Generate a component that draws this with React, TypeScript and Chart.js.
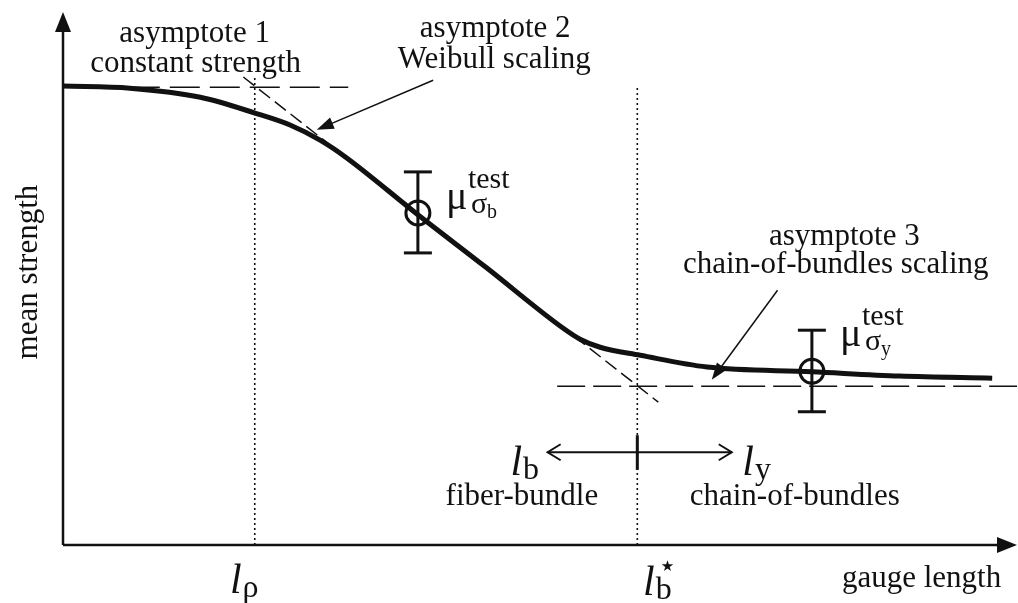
import React, { useEffect, useRef } from "react";
import { Chart, registerables } from "chart.js";

Chart.register(...registerables);

// Mean strength versus gauge length (schematic units, 0–100 on both axes)
const strengthCurveX = [0, 7, 14.4, 20.2, 23.8, 26.9, 29.6, 37.1, 44.4, 52.4, 54.2, 56.3, 60.5, 67.5, 78.5, 87.7, 97.4];
const strengthCurveY = [86.1, 85.7, 84.0, 81.0, 78.8, 76.0, 72.8, 62.1, 52.0, 40.7, 38.6, 37.1, 35.6, 33.4, 32.5, 31.7, 31.3];

// Asymptotes
const asymptote1X = [7.0, 29.9];
const asymptote1Y = [85.9, 85.9];
const asymptote2X = [18.9, 62.4];
const asymptote2Y = [87.8, 26.8];
const asymptote3X = [51.8, 100];
const asymptote3Y = [29.8, 29.8];

// Characteristic lengths l_ρ and l_b*
const lengthMarkX = [20.1, 60.2];
const lengthMarkTop = [87.8, 86.3];

// Test means with scatter bands
const testX = [37.2, 78.5];
const testMean = [62.3, 32.6];
const testLow = [54.8, 25.0];
const testHigh = [70.0, 40.3];
const testSubscripts = ["b", "y"];

const INK = "#111111";
const SERIF = '"Liberation Serif", "DejaVu Serif", serif';

const pts = (xs: number[], ys: number[]) => xs.map((x, i) => ({ x, y: ys[i] }));

function arrowHead(ctx: CanvasRenderingContext2D, x0: number, y0: number, x1: number, y1: number, len: number, half: number) {
  const a = Math.atan2(y1 - y0, x1 - x0);
  ctx.beginPath();
  ctx.moveTo(x1, y1);
  ctx.lineTo(x1 - len * Math.cos(a) + half * Math.sin(a), y1 - len * Math.sin(a) - half * Math.cos(a));
  ctx.lineTo(x1 - len * Math.cos(a) - half * Math.sin(a), y1 - len * Math.sin(a) + half * Math.cos(a));
  ctx.closePath();
  ctx.fill();
}

function openHead(ctx: CanvasRenderingContext2D, x: number, y: number, dir: number, len: number, half: number) {
  ctx.beginPath();
  ctx.moveTo(x - dir * len, y - half);
  ctx.lineTo(x, y);
  ctx.lineTo(x - dir * len, y + half);
  ctx.stroke();
}

const overlay = {
  id: "overlay",
  afterDraw(chart: any) {
    const { ctx, scales } = chart;
    const px = (v: number) => scales.x.getPixelForValue(v);
    const py = (v: number) => scales.y.getPixelForValue(v);
    ctx.save();
    ctx.strokeStyle = INK;
    ctx.fillStyle = INK;

    // axes with arrow heads
    ctx.lineWidth = 2.5;
    ctx.beginPath();
    ctx.moveTo(px(0), py(0));
    ctx.lineTo(px(0), py(100) + 14);
    ctx.moveTo(px(0), py(0));
    ctx.lineTo(px(100) - 14, py(0));
    ctx.stroke();
    arrowHead(ctx, px(0), py(0), px(0), py(100), 20, 8);
    arrowHead(ctx, px(0), py(0), px(100), py(0), 20, 8);

    // callout arrows to asymptotes 2 and 3
    ctx.lineWidth = 1.5;
    const callouts = [
      [38.8, 87.2, 26.6, 77.9],
      [74.9, 47.8, 68.0, 31.0],
    ];
    callouts.forEach(([a, b, c, d]) => {
      const x0 = px(a), y0 = py(b), x1 = px(c), y1 = py(d);
      const ang = Math.atan2(y1 - y0, x1 - x0);
      ctx.beginPath();
      ctx.moveTo(x0, y0);
      ctx.lineTo(x1 - 10 * Math.cos(ang), y1 - 10 * Math.sin(ang));
      ctx.stroke();
      arrowHead(ctx, x0, y0, x1, y1, 17, 6);
    });

    // regime arrow with l_b* tick
    const ay = py(17.4);
    ctx.lineWidth = 2;
    ctx.beginPath();
    ctx.moveTo(px(50.8), ay);
    ctx.lineTo(px(70.1), ay);
    ctx.stroke();
    openHead(ctx, px(50.8), ay, -1, 13, 8);
    openHead(ctx, px(70.1), ay, 1, 13, 8);
    ctx.lineWidth = 3;
    ctx.beginPath();
    ctx.moveTo(px(lengthMarkX[1]), py(20.6));
    ctx.lineTo(px(lengthMarkX[1]), py(14.1));
    ctx.stroke();

    // plain text labels
    ctx.font = `31px ${SERIF}`;
    ctx.textBaseline = "alphabetic";
    ctx.textAlign = "center";
    const texts: [string, number, number][] = [
      ["asymptote 1", 13.8, 94.4],
      ["constant strength", 13.9, 88.7],
      ["asymptote 2", 45.3, 95.3],
      ["Weibull scaling", 45.2, 89.5],
      ["asymptote 3", 81.9, 56.3],
      ["chain-of-bundles scaling", 81.0, 51.0],
      ["fiber-bundle", 48.1, 7.5],
      ["chain-of-bundles", 76.7, 7.5],
      ["gauge length", 90.0, -7.9],
    ];
    texts.forEach(([t, x, y]) => ctx.fillText(t, px(x), py(y)));

    ctx.save();
    ctx.translate(px(-2.7), py(51.2));
    ctx.rotate(-Math.PI / 2);
    ctx.fillText("mean strength", 0, 0);
    ctx.restore();

    // length symbols
    ctx.textAlign = "left";
    const lengthSym = (x: number, y: number, sub: string, star: boolean) => {
      const x0 = px(x), y0 = py(y);
      ctx.font = `italic 42px ${SERIF}`;
      ctx.fillText("l", x0, y0);
      const w = ctx.measureText("l").width;
      ctx.font = `32px ${SERIF}`;
      ctx.fillText(sub, x0 + w + 1, y0 + 4);
      if (star) {
        ctx.font = `15px "DejaVu Sans"`;
        ctx.fillText("★", x0 + w + 6, y0 - 24);
      }
    };
    lengthSym(46.9, 13.1, "b", false);
    lengthSym(71.2, 13.1, "y", false);
    lengthSym(17.5, -9.0, "ρ", false);
    lengthSym(60.8, -9.4, "b", true);

    // μ^test_σ labels next to the test points
    const labelLift = [4, 25];
    testX.forEach((tx, i) => {
      const x0 = px(tx) + 28;
      const y0 = py(testMean[i]) - labelLift[i];
      ctx.font = `40px ${SERIF}`;
      ctx.fillText("μ", x0, y0);
      ctx.font = `30px ${SERIF}`;
      ctx.fillText("test", x0 + 22, y0 - 21);
      ctx.fillText("σ", x0 + 25, y0 + 4);
      const ws = ctx.measureText("σ").width;
      ctx.font = `20px ${SERIF}`;
      ctx.fillText(testSubscripts[i], x0 + 25 + ws, y0 + 9);
    });

    ctx.restore();
  },
};

export default function App() {
  const canvasRef = useRef<HTMLCanvasElement | null>(null);

  useEffect(() => {
    if (!canvasRef.current) return;
    const errorBars = testX.map((tx, i) => ({
      data: [
        { x: tx, y: testLow[i] },
        { x: tx, y: testHigh[i] },
      ],
      showLine: true,
      borderColor: INK,
      borderWidth: 3,
      pointStyle: "line",
      pointRadius: 14,
      pointBorderWidth: 3,
      pointBorderColor: INK,
      clip: false,
    }));

    const chart = new Chart(canvasRef.current, {
      type: "scatter",
      data: {
        datasets: [
          {
            data: pts(testX, testMean),
            pointStyle: "circle",
            pointRadius: 12,
            pointBorderWidth: 3,
            pointBorderColor: INK,
            pointBackgroundColor: "rgba(0,0,0,0)",
            showLine: false,
            clip: false,
          },
          {
            data: pts(strengthCurveX, strengthCurveY),
            showLine: true,
            borderColor: INK,
            borderWidth: 5,
            cubicInterpolationMode: "monotone",
            pointRadius: 0,
            clip: false,
          },
          ...errorBars,
          {
            data: pts(asymptote1X, asymptote1Y),
            showLine: true,
            borderColor: INK,
            borderWidth: 1.5,
            borderDash: [30, 10],
            pointRadius: 0,
            clip: false,
          },
          {
            data: pts(asymptote2X, asymptote2Y),
            showLine: true,
            borderColor: INK,
            borderWidth: 1.5,
            borderDash: [14, 6],
            pointRadius: 0,
            clip: false,
          },
          {
            data: pts(asymptote3X, asymptote3Y),
            showLine: true,
            borderColor: INK,
            borderWidth: 1.5,
            borderDash: [28, 8],
            pointRadius: 0,
            clip: false,
          },
          ...lengthMarkX.map((lx, i) => ({
            data: [
              { x: lx, y: 0 },
              { x: lx, y: lengthMarkTop[i] },
            ],
            showLine: true,
            borderColor: INK,
            borderWidth: 1.6,
            borderDash: [2, 3],
            pointRadius: 0,
            clip: false,
          })),
        ] as any,
      },
      options: {
        animation: false,
        responsive: false,
        events: [],
        layout: { autoPadding: false, padding: { left: 63, right: 1, top: 12, bottom: 58 } },
        plugins: { legend: { display: false }, tooltip: { enabled: false } },
        scales: {
          x: { type: "linear", min: 0, max: 100, display: false },
          y: { type: "linear", min: 0, max: 100, display: false },
        },
      },
      plugins: [overlay],
    });
    return () => chart.destroy();
  }, []);

  return (
    <div style={{ position: "absolute", left: 0, top: 0, width: 1018, height: 603, background: "#fff" }}>
      <canvas ref={canvasRef} width={1018} height={603} style={{ width: 1018, height: 603 }} />
    </div>
  );
}
